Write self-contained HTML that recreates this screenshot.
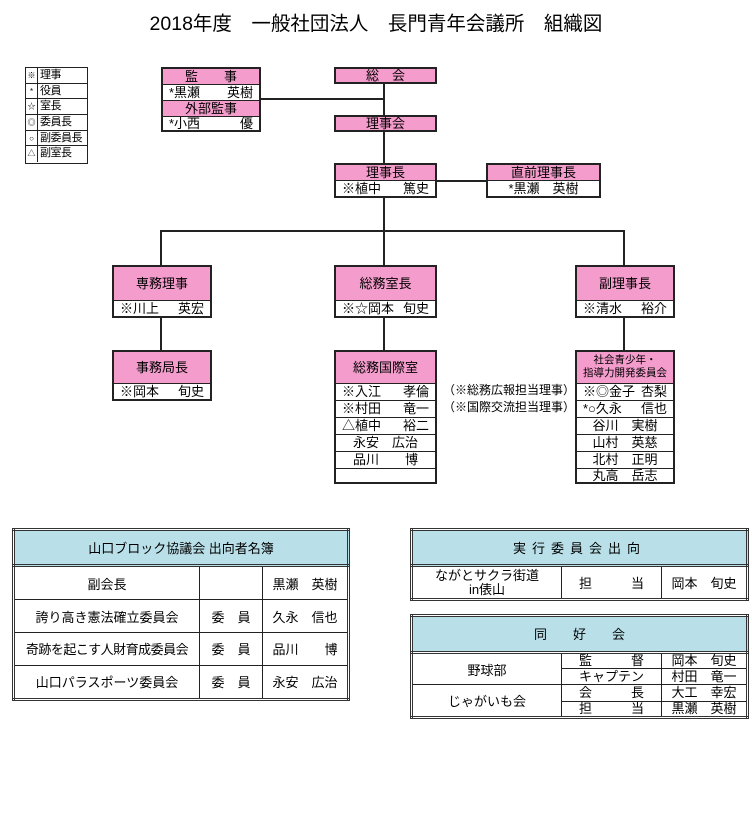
<!DOCTYPE html>
<html><head><meta charset="utf-8">
<style>
body{margin:0;width:752px;height:818px;background:#fff;font-family:"Liberation Sans","Noto Sans CJK JP",sans-serif;color:#000;position:relative;overflow:hidden}
.a{position:absolute;box-sizing:border-box}
.bx{position:absolute;box-sizing:border-box;border:2px solid #222;background:#fff}
.r{box-sizing:border-box;border-bottom:1px solid #222;font-size:13px;text-align:center;overflow:hidden;white-space:nowrap}
.r:last-child{border-bottom:none}
.p{background:#f49ccc}
.ln{position:absolute;background:#222}
.n{display:flex;justify-content:space-between;padding:0 6px}
table{border-collapse:collapse;position:absolute;border:3px double #333;background:#fff}
td{border:1px solid #222;font-size:13px;text-align:center;padding:0;white-space:nowrap}
th{background:#b9dfe8;border:3px double #333;font-weight:normal;font-size:13px}
.lg{display:flex;border-bottom:1px solid #222;white-space:nowrap;height:15.7px;box-sizing:border-box}
.lg span:first-child{width:11px;flex:none;border-right:1px solid #222;text-align:center;font-size:8px}
.lg span:last-child{padding-left:2px;letter-spacing:-0.5px}
</style></head><body>
<div class="a" style="left:0;top:7px;width:752px;text-align:center;font-size:19.5px">2018年度　一般社団法人　長門青年会議所　組織図</div>

<!-- legend -->
<div class="bx" style="left:25px;top:67px;width:63px;height:97px;border-width:1.5px;overflow:hidden">
<div style="font-size:11px;line-height:15px">
<div class="lg"><span>※</span><span>理事</span></div>
<div class="lg"><span>*</span><span>役員</span></div>
<div class="lg"><span>☆</span><span>室長</span></div>
<div class="lg"><span>◎</span><span>委員長</span></div>
<div class="lg"><span>○</span><span>副委員長</span></div>
<div class="lg" style="border-bottom:none"><span>△</span><span>副室長</span></div>
</div></div>

<!-- lines -->
<div class="ln" style="left:260px;top:98px;width:125px;height:2px"></div>
<div class="ln" style="left:383px;top:83px;width:2px;height:32px"></div>
<div class="ln" style="left:383px;top:131px;width:2px;height:32px"></div>
<div class="ln" style="left:436px;top:180px;width:50px;height:2px"></div>
<div class="ln" style="left:383px;top:197px;width:2px;height:69px"></div>
<div class="ln" style="left:160px;top:230px;width:465px;height:2px"></div>
<div class="ln" style="left:160px;top:230px;width:2px;height:36px"></div>
<div class="ln" style="left:623px;top:230px;width:2px;height:36px"></div>
<div class="ln" style="left:160px;top:317px;width:2px;height:34px"></div>
<div class="ln" style="left:383px;top:317px;width:2px;height:34px"></div>
<div class="ln" style="left:623px;top:317px;width:2px;height:34px"></div>

<!-- 監事 -->
<div class="bx" style="left:161px;top:67px;width:100px;height:65px">
<div class="r p" style="height:16px;line-height:15px">監　　事</div>
<div class="r n" style="height:16px;line-height:15px"><span>*黒瀬</span><span>英樹</span></div>
<div class="r p" style="height:16px;line-height:15px">外部監事</div>
<div class="r n" style="height:13px;line-height:13px"><span>*小西</span><span>優</span></div>
</div>
<div class="bx" style="left:334px;top:67px;width:103px;height:17px"><div class="r p" style="height:13px;line-height:13px">総　会</div></div>
<div class="bx" style="left:334px;top:115px;width:103px;height:17px"><div class="r p" style="height:13px;line-height:13px">理事会</div></div>
<div class="bx" style="left:334px;top:163px;width:103px;height:35px">
<div class="r p" style="height:16px;line-height:15px">理事長</div>
<div class="r n" style="height:15px;line-height:15px"><span>※植中</span><span>篤史</span></div></div>
<div class="bx" style="left:486px;top:163px;width:115px;height:35px">
<div class="r p" style="height:16px;line-height:15px">直前理事長</div>
<div class="r" style="height:15px;line-height:15px">*黒瀬　英樹</div></div>

<div class="bx" style="left:112px;top:265px;width:100px;height:53px">
<div class="r p" style="height:34px;line-height:33px">専務理事</div>
<div class="r n" style="height:15px;line-height:15px"><span>※川上</span><span>英宏</span></div></div>
<div class="bx" style="left:334px;top:265px;width:103px;height:53px">
<div class="r p" style="height:34px;line-height:33px">総務室長</div>
<div class="r n" style="height:15px;line-height:15px"><span>※☆岡本</span><span>旬史</span></div></div>
<div class="bx" style="left:575px;top:265px;width:100px;height:53px">
<div class="r p" style="height:34px;line-height:33px">副理事長</div>
<div class="r n" style="height:15px;line-height:15px"><span>※清水</span><span>裕介</span></div></div>

<div class="bx" style="left:112px;top:350px;width:100px;height:51px">
<div class="r p" style="height:32px;line-height:31px">事務局長</div>
<div class="r n" style="height:15px;line-height:15px"><span>※岡本</span><span>旬史</span></div></div>

<div class="bx" style="left:334px;top:350px;width:103px;height:134px">
<div class="r p" style="height:32px;line-height:31px">総務国際室</div>
<div class="r n" style="height:17px;line-height:16px"><span>※入江</span><span>孝倫</span></div>
<div class="r n" style="height:17px;line-height:16px"><span>※村田</span><span>竜一</span></div>
<div class="r n" style="height:17px;line-height:16px"><span>△植中</span><span>裕二</span></div>
<div class="r" style="height:17px;line-height:16px">永安　広治</div>
<div class="r" style="height:17px;line-height:16px">品川　　博</div>
<div class="r" style="height:13px"></div></div>
<div class="a" style="left:443px;top:382px;font-size:12px;line-height:17px">（※総務広報担当理事）<br>（※国際交流担当理事）</div>

<div class="bx" style="left:575px;top:350px;width:100px;height:134px">
<div class="r p" style="height:32px;line-height:13px;font-size:10.5px;padding-top:2px">社会青少年・<br>指導力開発委員会</div>
<div class="r n" style="height:17px;line-height:16px"><span>※◎金子</span><span>杏梨</span></div>
<div class="r n" style="height:17px;line-height:16px"><span>*○久永</span><span>信也</span></div>
<div class="r" style="height:17px;line-height:16px">谷川　実樹</div>
<div class="r" style="height:17px;line-height:16px">山村　英慈</div>
<div class="r" style="height:17px;line-height:16px">北村　正明</div>
<div class="r" style="height:13px;line-height:13px">丸高　岳志</div></div>

<!-- tables -->
<table style="left:12px;top:528px;width:338px;height:173px">
<tr style="height:36px"><th colspan="3">山口ブロック協議会 出向者名簿</th></tr>
<tr><td style="width:184px">副会長</td><td style="width:62px"></td><td>黒瀬　英樹</td></tr>
<tr><td>誇り高き憲法確立委員会</td><td>委　員</td><td>久永　信也</td></tr>
<tr><td style="letter-spacing:-0.5px">奇跡を起こす人財育成委員会</td><td>委　員</td><td>品川　　博</td></tr>
<tr><td>山口パラスポーツ委員会</td><td>委　員</td><td>永安　広治</td></tr>
</table>

<table style="left:410px;top:528px;width:339px;height:73px">
<tr style="height:36px"><th colspan="3" style="letter-spacing:6px">実行委員会出向</th></tr>
<tr><td style="width:148px;line-height:14px">ながとサクラ街道<br>in俵山</td><td style="width:99px">担　　　当</td><td>岡本　旬史</td></tr>
</table>

<table style="left:410px;top:614px;width:339px;height:105px">
<tr style="height:36px"><th colspan="3">同　　好　　会</th></tr>
<tr style="height:16px"><td rowspan="2" style="width:148px">野球部</td><td style="width:99px;line-height:14px">監　　　督</td><td style="line-height:14px">岡本　旬史</td></tr>
<tr style="height:16px"><td style="line-height:14px">キャプテン</td><td style="line-height:14px">村田　竜一</td></tr>
<tr style="height:16px"><td rowspan="2">じゃがいも会</td><td style="line-height:14px">会　　　長</td><td style="line-height:14px">大工　幸宏</td></tr>
<tr style="height:16px"><td style="line-height:14px">担　　　当</td><td style="line-height:14px">黒瀬　英樹</td></tr>
</table>
</body></html>
